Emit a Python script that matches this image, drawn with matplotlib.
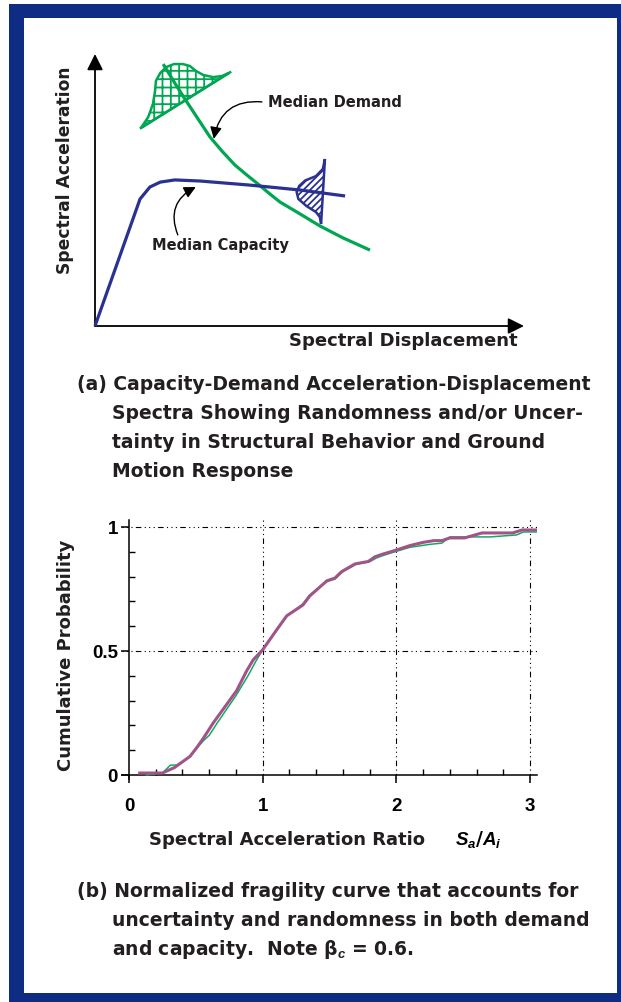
import matplotlib
matplotlib.use("Agg")
import matplotlib.pyplot as plt
from matplotlib.patches import Rectangle, Polygon, FancyArrowPatch
import numpy as np

# ---------------- data ----------------
# schematic (a): arbitrary units, origin at axes origin, axes extend to 10
capacity_x = [0.0, 1.05, 1.28, 1.52, 1.86, 2.45, 3.61, 4.78, 5.83]
capacity_y = [0.0, 4.67, 5.11, 5.29, 5.37, 5.33, 5.18, 5.00, 4.78]

demand_x = [1.59, 1.86, 2.14, 2.42, 2.68, 2.96, 3.26, 3.54, 3.80, 4.08, 4.31, 4.78, 5.24, 5.78, 6.41]
demand_y = [9.63, 8.93, 8.24, 7.57, 6.95, 6.43, 5.92, 5.55, 5.22, 4.85, 4.56, 4.12, 3.68, 3.24, 2.79]

demand_pdf_x = [1.07, 1.24, 1.35, 1.40, 1.42, 1.52, 1.66, 1.84, 2.05, 2.21, 2.35, 2.52, 2.75, 2.96, 3.12]
demand_pdf_y = [7.28, 7.68, 8.16, 8.64, 9.01, 9.30, 9.52, 9.63, 9.63, 9.56, 9.38, 9.23, 9.15, 9.19, 9.30]

capacity_pdf_x = [5.36, 5.31, 5.15, 4.90, 4.76, 4.70, 4.74, 4.93, 5.15, 5.24, 5.27]
capacity_pdf_y = [6.14, 5.77, 5.51, 5.35, 5.15, 4.93, 4.67, 4.41, 4.19, 4.01, 3.75]

# fragility curve (b)
ratio_mauve = [0.08, 0.25, 0.34, 0.456, 0.506, 0.556, 0.63, 0.805, 0.88, 0.93, 1.0, 1.10, 1.18,
               1.30, 1.354, 1.48, 1.54, 1.59, 1.69, 1.79, 1.84, 1.90, 2.0, 2.10, 2.20, 2.28,
               2.34, 2.40, 2.51, 2.64, 2.87, 2.94, 3.05]
prob_mauve = [0.008, 0.008, 0.03, 0.075, 0.11, 0.148, 0.21, 0.34, 0.42, 0.465, 0.505, 0.582, 0.642,
              0.685, 0.723, 0.783, 0.794, 0.82, 0.851, 0.861, 0.88, 0.891, 0.907, 0.925, 0.938, 0.945,
              0.945, 0.956, 0.956, 0.976, 0.976, 0.988, 0.988]
ratio_green = [0.13, 0.25, 0.31, 0.36, 0.46, 0.51, 0.56, 0.60, 0.66, 0.80, 0.89, 0.95, 1.0, 1.05,
               1.10, 1.18, 1.30, 1.35, 1.48, 1.54, 1.60, 1.70, 1.80, 1.85, 1.90, 2.0, 2.10, 2.25,
               2.34, 2.40, 2.70, 2.90, 2.95, 3.05]
prob_green = [0.0, 0.008, 0.04, 0.04, 0.075, 0.11, 0.14, 0.16, 0.21, 0.32, 0.40, 0.46, 0.505, 0.545,
              0.58, 0.64, 0.69, 0.725, 0.78, 0.79, 0.82, 0.85, 0.86, 0.875, 0.885, 0.902, 0.918, 0.93,
              0.935, 0.96, 0.96, 0.968, 0.98, 0.98]

x_major = [0, 1, 2, 3]
y_major = [0, 0.5, 1]
y_major_labels = ["0", "0.5", "1"]

caption_a = ["(a) Capacity-Demand Acceleration-Displacement",
             "Spectra Showing Randomness and/or Uncer-",
             "tainty in Structural Behavior and Ground",
             "Motion Response"]
caption_b = ["(b) Normalized fragility curve that accounts for",
             "uncertainty and randomness in both demand",
             "and capacity.  Note β${}_c$ = 0.6."]

# ---------------- style ----------------
NAVY = "#0e2c84"
GREEN = "#00a651"
BLUE = "#2b3190"
MAUVE = "#a05489"
GREEN2 = "#17a85e"
TXT = "#231f20"
HFONT = "DejaVu Sans"
plt.rcParams['mathtext.fontset'] = 'custom'
plt.rcParams['mathtext.it'] = 'Liberation Sans:italic:bold'
plt.rcParams['mathtext.rm'] = 'DejaVu Sans:bold'
plt.rcParams['hatch.linewidth'] = 1.3

W, H = 621, 1003
fig = plt.figure(figsize=(W / 100, H / 100), dpi=100)
fig.patch.set_facecolor("white")

# background / overlay axes in pixel coordinates
bg = fig.add_axes([0, 0, 1, 1], zorder=0)
bg.set_xlim(0, W)
bg.set_ylim(H, 0)
bg.axis("off")
bg.add_patch(Rectangle((9, 5), W - 9, H - 5, facecolor=NAVY, edgecolor="none"))
bg.add_patch(Rectangle((24, 19), 617 - 24, 994 - 19, facecolor="white", edgecolor="none"))

# ---------------- schematic (a) ----------------
def fig_rect(x0, y0, x1, y1):
    return [x0 / W, 1 - y1 / H, (x1 - x0) / W, (y1 - y0) / H]

sa = fig.add_axes(fig_rect(95, 55, 524, 327), zorder=1)
sa.set_xlim(0, 10)
sa.set_ylim(0, 10)
sa.axis("off")
sa.patch.set_alpha(0)

# axes arrows
for (dx, dy) in [(10, 0), (0, 10)]:
    sa.add_patch(FancyArrowPatch((0, 0), (dx, dy), arrowstyle="-|>,head_length=6,head_width=3",
                                 mutation_scale=1.6, color="black", lw=1.3, clip_on=False,
                                 shrinkA=0, shrinkB=0))

# distributions
pg = Polygon(list(zip(demand_pdf_x, demand_pdf_y)), closed=True, facecolor="white",
             edgecolor=GREEN, hatch="++", lw=1.8, clip_on=False, zorder=2)
sa.add_patch(pg)
sa.plot([demand_pdf_x[0], 3.15], [demand_pdf_y[0], 9.33], color=GREEN, lw=1.8, zorder=3,
        clip_on=False)

pb = Polygon(list(zip(capacity_pdf_x, capacity_pdf_y)), closed=True, facecolor="white",
             edgecolor=BLUE, hatch="/////", lw=1.8, clip_on=False, zorder=2)
sa.add_patch(pb)

sa.plot(demand_x, demand_y, color=GREEN, lw=2.3, solid_capstyle="butt", zorder=4, clip_on=False)
sa.plot(capacity_x, capacity_y, color=BLUE, lw=2.3, solid_capstyle="butt", zorder=4, clip_on=False)

# annotations
sa.text(4.03, 8.24, "Median Demand", fontsize=10.5, fontweight="bold", family=HFONT,
        color=TXT, va="center", ha="left")
sa.add_patch(FancyArrowPatch((3.89, 8.24), (2.77, 6.88), connectionstyle="arc3,rad=0.45",
                             arrowstyle="-|>,head_length=5,head_width=2.5", mutation_scale=1.4,
                             color="black", lw=1.0, clip_on=False, shrinkA=0, shrinkB=0))
sa.text(1.33, 3.01, "Median Capacity", fontsize=10.5, fontweight="bold", family=HFONT,
        color=TXT, va="center", ha="left")
sa.add_patch(FancyArrowPatch((1.93, 3.35), (2.35, 5.11), connectionstyle="arc3,rad=-0.45",
                             arrowstyle="-|>,head_length=5,head_width=2.5", mutation_scale=1.4,
                             color="black", lw=1.0, clip_on=False, shrinkA=0, shrinkB=0))

bg.text(65, 170, "Spectral Acceleration", rotation=90, fontsize=12.3, fontweight="bold",
        family=HFONT, color=TXT, ha="center", va="center")
bg.text(403, 341, "Spectral Displacement", fontsize=13, fontweight="bold",
        family=HFONT, color=TXT, ha="center", va="center")

# captions
def caption(lines, y0, dy=28.7):
    for i, s in enumerate(lines):
        x = 77 if i == 0 else 112
        bg.text(x, y0 + i * dy, s, fontsize=13.5, fontweight="bold", family=HFONT,
                color=TXT, ha="left", va="center")

caption(caption_a, 385)
caption(caption_b, 892)

# ---------------- fragility plot (b) ----------------
xlo, xhi = -0.055, 3.05
ylo, yhi = -0.016, 1.03
px0 = 129 + 133.7 * xlo
px1 = 129 + 133.7 * xhi
py0 = 776 - 248 * ylo
py1 = 776 - 248 * yhi
ax = fig.add_axes(fig_rect(px0, py1, px1, py0), zorder=1)
ax.patch.set_alpha(0)
ax.set_xlim(xlo, xhi)
ax.set_ylim(ylo, yhi)
for s in ["top", "right"]:
    ax.spines[s].set_visible(False)
ax.spines["left"].set_position(("data", 0))
ax.spines["bottom"].set_position(("data", 0))
ax.spines["left"].set_linewidth(1.1)
ax.spines["bottom"].set_linewidth(1.1)

gls = (0, (1, 3, 1, 3, 1, 3, 5, 3))
for xv in x_major[1:]:
    ax.axvline(xv, color="black", lw=0.8, ls=gls, zorder=1)
for yv in y_major[1:]:
    ax.axhline(yv, color="black", lw=0.8, ls=gls, zorder=1)

ax.plot(ratio_green, prob_green, color=GREEN2, lw=1.1, zorder=3)
ax.plot(ratio_mauve, prob_mauve, color=MAUVE, lw=2.2, zorder=4)

ax.set_xticks(x_major)
ax.set_xticks(np.arange(0, 3.01, 0.2), minor=True)
ax.set_yticks(y_major)
ax.set_yticklabels(y_major_labels)
ax.set_yticks(np.arange(0, 1.01, 0.1), minor=True)
ax.tick_params(which="major", direction="out", length=6, width=1.1, labelsize=13.5, pad=10,
               labelcolor="black")
ax.tick_params(axis="y", which="major", pad=2)
ax.tick_params(which="minor", direction="in", length=4, width=1.0)
for lab in ax.get_xticklabels() + ax.get_yticklabels():
    lab.set_fontfamily("Liberation Sans")
    lab.set_fontweight("bold")

bg.text(66, 655, "Cumulative Probability", rotation=90, fontsize=13, fontweight="bold",
        family=HFONT, color=TXT, ha="center", va="center")
bg.text(287, 840, "Spectral Acceleration Ratio", fontsize=13, fontweight="bold",
        family=HFONT, color=TXT, ha="center", va="center")
bg.text(455, 840, "$S_a/A_i$", fontsize=13.5, color="black", ha="left", va="center")

fig.savefig("out.png", dpi=100, facecolor="white")
